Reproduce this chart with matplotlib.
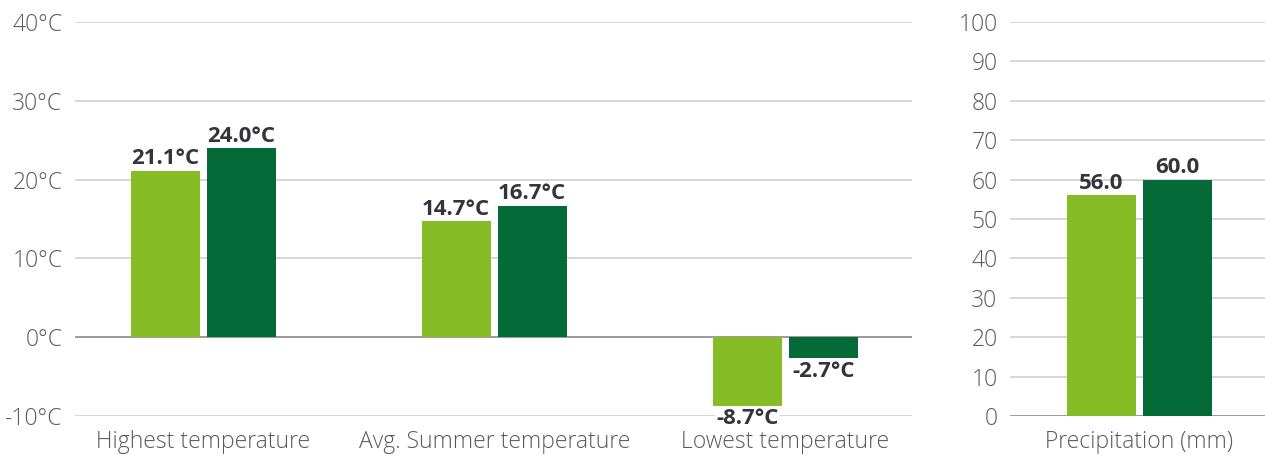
import numpy as np
import matplotlib.pyplot as plt

plt.rcParams['font.family'] = ['Open Sans', 'DejaVu Sans']

# data
temp_categories = ['Highest temperature', 'Avg. Summer temperature', 'Lowest temperature']
temp_series_a = [21.1, 14.7, -8.7]
temp_series_b = [24.0, 16.7, -2.7]
precip_categories = ['Precipitation (mm)']
precip_series_a = [56.0]
precip_series_b = [60.0]
temp_ticks = [-10, 0, 10, 20, 30, 40]
precip_ticks = list(range(0, 101, 10))

LIGHT = '#86BC25'
DARK = '#046A38'
TEXT = '#34343c'
TICK = '#5a5a5a'
GRID = '#cfcfcf'
ZERO = '#8a8a8a'

bar_w = 0.237
off = 0.1306

fig = plt.figure(figsize=(12.65, 4.58), dpi=100)
ax1 = fig.add_axes([75 / 1265, 42 / 458, 837 / 1265, 394 / 458])
ax2 = fig.add_axes([1010 / 1265, 42 / 458, 255 / 1265, 394 / 458])


def style_axis(ax, ticks, fmt):
    for s in ax.spines.values():
        s.set_visible(False)
    ax.set_yticks(ticks)
    ax.set_yticklabels([fmt(t) for t in ticks])
    ax.tick_params(axis='y', length=0, pad=9, labelsize=16.5, labelcolor=TICK)
    ax.tick_params(axis='x', length=0, pad=10, labelsize=16.5, labelcolor=TICK)
    for lab in ax.get_yticklabels():
        lab.set_fontweight('light')
    for t in ticks:
        ax.axhline(t, color=ZERO if t == 0 else GRID, lw=1.2, zorder=0)


def label_bars(ax, xs, vals, fmt, span):
    for x, v in zip(xs, vals):
        if v >= 0:
            ax.text(x, v + span * 0.004, fmt(v), ha='center', va='bottom',
                    fontsize=16, fontweight='bold', color=TEXT)
        else:
            ax.text(x, v - span * 0.006, fmt(v), ha='center', va='top',
                    fontsize=16, fontweight='bold', color=TEXT,
                    bbox=dict(facecolor='white', edgecolor='none', pad=1))


# temperature panel
x = np.arange(len(temp_categories))
ax1.bar(x - off, temp_series_a, bar_w, color=LIGHT, zorder=2)
ax1.bar(x + off, temp_series_b, bar_w, color=DARK, zorder=2)
style_axis(ax1, temp_ticks, lambda t: f'{t}°C')
ax1.set_ylim(-10, 40)
ax1.set_xlim(-0.44, 2.435)
ax1.set_xticks(x)
ax1.set_xticklabels(temp_categories)
for lab in ax1.get_xticklabels():
    lab.set_fontweight('light')
label_bars(ax1, x - off, temp_series_a, lambda v: f'{v:.1f}°C', 50)
label_bars(ax1, x + off, temp_series_b, lambda v: f'{v:.1f}°C', 50)

# precipitation panel
xp = np.arange(len(precip_categories))
ax2.bar(xp - off, precip_series_a, bar_w, color=LIGHT, zorder=2)
ax2.bar(xp + off, precip_series_b, bar_w, color=DARK, zorder=2)
style_axis(ax2, precip_ticks, lambda t: f'{t}')
ax2.set_ylim(0, 100)
ax2.set_xlim(-0.445, 0.431)
ax2.set_xticks(xp)
ax2.set_xticklabels(precip_categories)
for lab in ax2.get_xticklabels():
    lab.set_fontweight('light')
label_bars(ax2, xp - off, precip_series_a, lambda v: f'{v:.1f}', 100)
label_bars(ax2, xp + off, precip_series_b, lambda v: f'{v:.1f}', 100)

fig.savefig('out.png', dpi=100)
